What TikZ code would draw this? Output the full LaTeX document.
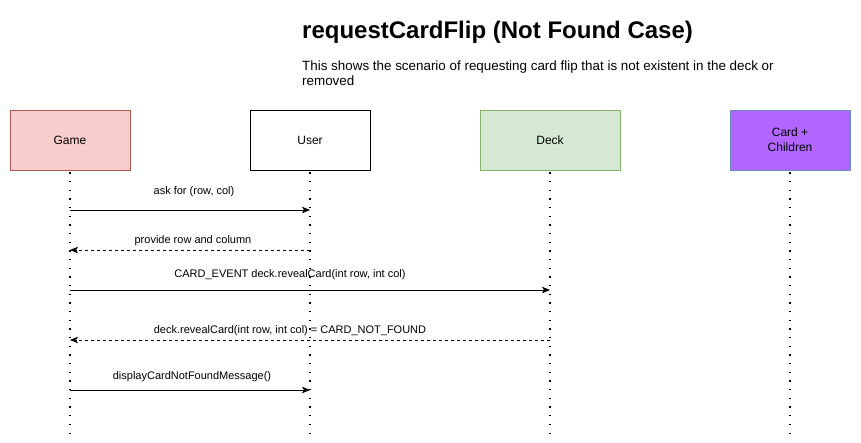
\documentclass[tikz,border=0pt]{standalone}
\usepackage{fontspec}
\setmainfont{Liberation Sans}
\usetikzlibrary{arrows.meta}
\definecolor{gamefill}{HTML}{F8CECC}
\definecolor{gameline}{HTML}{B85450}
\definecolor{deckfill}{HTML}{D5E8D4}
\definecolor{deckline}{HTML}{82B366}
\definecolor{cardfill}{HTML}{B266FF}
\definecolor{cardline}{HTML}{6C8EBF}

\begin{document}
\begin{tikzpicture}[
    x=1pt, y=-1pt,
    actor/.style={rectangle, draw, line width=0.8pt, minimum width=120pt, minimum height=60pt, text centered, align=center, font=\fontsize{12}{15}\selectfont},
    lifeline/.style={line width=1.4pt, dash pattern=on 1.2pt off 7.47pt},
    call/.style={->, >={Stealth[length=8pt, width=6.5pt, inset=2pt]}, line width=0.8pt},
    reply/.style={call, dash pattern=on 3pt off 3pt},
    msg/.style={font=\fontsize{11}{13}\selectfont, inner sep=0pt}
]
\useasboundingbox (0,0) rectangle (861,442);

% Title and description
\node[anchor=west, inner sep=0pt, font=\bfseries\fontsize{24}{28}\selectfont] (title) at (302,32) {requestCardFlip (Not Found Case)};
\node[anchor=north west, align=left, inner sep=0pt, font=\fontsize{13.4}{15}\selectfont] (desc) at (302,61) {This shows the scenario of requesting card flip that is not existent in the deck or\\removed};

% Participants
\node[actor, fill=gamefill, draw=gameline] (game) at (70,140) {Game};
\node[actor, fill=white] (user) at (310,140) {User};
\node[actor, fill=deckfill, draw=deckline, minimum width=140pt] (deck) at (550,140) {Deck};
\node[actor, fill=cardfill, draw=cardline] (card) at (790,140) {Card +\\Children};

% Lifelines
\coordinate (gameEnd) at (70,435);
\coordinate (userEnd) at (310,435);
\coordinate (deckEnd) at (550,435);
\coordinate (cardEnd) at (790,435);
\draw[lifeline] ([yshift=-2pt]game.south) -- (gameEnd);
\draw[lifeline] ([yshift=-2pt]user.south) -- (userEnd);
\draw[lifeline] ([yshift=-2pt]deck.south) -- (deckEnd);
\draw[lifeline] ([yshift=-2pt]card.south) -- (cardEnd);

% Message points
\coordinate (gameAsk) at (70,210);
\coordinate (userAsk) at (310,210);
\coordinate (userProvide) at (310,250);
\coordinate (gameProvide) at (70,250);
\coordinate (gameReveal) at (70,290);
\coordinate (deckReveal) at (550,290);
\coordinate (deckNotFound) at (550,340);
\coordinate (gameNotFound) at (70,340);
\coordinate (gameDisplay) at (70,390);
\coordinate (userDisplay) at (310,390);

% Messages
\draw[call] (gameAsk) -- (userAsk);
\node[msg] (askLabel) at (194,192) {ask for (row, col)};
\draw[reply] (userProvide) -- (gameProvide);
\node[msg] (provideLabel) at (193,241) {provide row and column};
\draw[call] (gameReveal) -- (deckReveal);
\node[msg] (revealLabel) at (290,275) {CARD\_EVENT deck.revealCard(int row, int col)};
\draw[reply] (deckNotFound) -- (gameNotFound);
\node[msg] (notFoundLabel) at (290,331) {deck.revealCard(int row, int col) = CARD\_NOT\_FOUND};
\draw[call] (gameDisplay) -- (userDisplay);
\node[msg] (displayLabel) at (192,377) {displayCardNotFoundMessage()};

\end{tikzpicture}
\end{document}
